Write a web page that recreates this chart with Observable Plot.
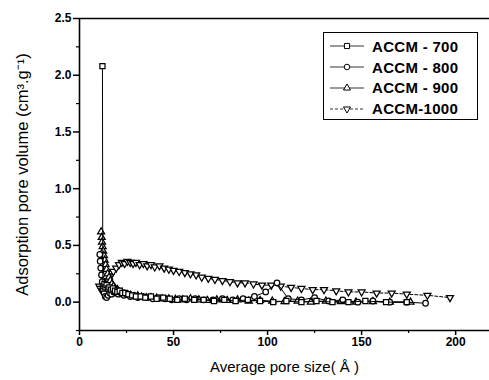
<!DOCTYPE html>
<html><head><meta charset="utf-8">
<script src="https://cdn.jsdelivr.net/npm/d3@7"></script>
<script src="https://cdn.jsdelivr.net/npm/@observablehq/plot@0.6"></script>
<style>
body{margin:0;background:#fff;}
#wrap{position:relative;width:489px;height:380px;overflow:hidden;}
#wrap svg{display:block;}
.legend{position:absolute;left:323px;top:32px;width:155px;height:88px;border:1px solid #000;box-sizing:border-box;background:#fff;font:bold 15px "Liberation Sans",Arial,sans-serif;padding-top:3px;letter-spacing:0.3px;}
.row{display:flex;align-items:center;height:20.8px;}
.row svg{margin-left:6px;margin-right:8px;}
</style></head>
<body><div id="wrap"></div>
<script>
// ---- data ----
const seriesNames = ["ACCM - 700", "ACCM - 800", "ACCM - 900", "ACCM-1000"];

const x700 = [12.2,12.4,12.8,13.3,13.8,14.4,15.1,15.9,16.8,17.8,18.9,20.1,21.4,22.8,24.3,26,28,30,32.5,35,38,41,44.5,48,52,56,61,66,71.5,77,83,89.5,96,103,110,118,126,134.5,143,152,163,174];
const y700 = [2.08,0.12,0.14,0.16,0.13,0.15,0.12,0.13,0.11,0.12,0.10,0.09,0.10,0.08,0.08,0.07,0.06,0.05,0.05,0.04,0.05,0.03,0.04,0.03,0.02,0.03,0.02,0.02,0.01,0.02,0.01,0.02,0.01,0.00,0.01,0.00,0.01,0.00,0.00,0.01,0.00,0.00];

const x800 = [10.8,11.0,11.3,11.7,12.1,12.6,13.1,13.7,14.4,15.2,16.1,17.1,18.2,19.4,20.7,22.1,23.6,25.2,27,29,31,33.5,36,39,42,45.5,49,53,57,61.5,66,71,76,81.5,87,93,99,105,111,118,125,132.5,140,148,156,165,174,184];
const y800 = [0.42,0.36,0.30,0.24,0.18,0.12,0.08,0.05,0.04,0.06,0.08,0.07,0.09,0.08,0.07,0.08,0.06,0.07,0.05,0.06,0.04,0.05,0.04,0.03,0.04,0.03,0.02,0.03,0.02,0.03,0.02,0.02,0.03,0.02,0.03,0.05,0.09,0.17,0.03,0.02,0.04,0.01,0.02,0.00,0.01,0.00,0.00,-0.01];

const x900 = [11.5,11.8,12.0,12.3,12.6,13.0,13.4,13.9,14.4,15.0,15.7,16.4,17.2,18.1,19.1,20.2,21.4,22.7,24.1,25.6,27.2,29,31,33,35.5,38,41,44,47.5,51,55,59,63.5,68,73,78.5,84,90,96,102.5,109,116,123,131,139,147,156,165,176];
const y900 = [0.62,0.57,0.53,0.49,0.45,0.41,0.37,0.33,0.29,0.25,0.22,0.19,0.16,0.14,0.12,0.11,0.09,0.085,0.07,0.065,0.06,0.05,0.055,0.045,0.04,0.04,0.035,0.03,0.03,0.025,0.02,0.03,0.02,0.015,0.02,0.015,0.02,0.01,0.015,0.01,0.005,0.01,0.00,0.01,0.005,0.00,0.005,0.00,0.00];

const x1000 = [10.5,11.2,12,13,14,15.2,16.5,18,19.5,21,22.5,24,25.5,27,28.5,30,32,34,36,38,40,42.5,45,47.5,50,53,56,59,62,65,68.5,72,76,80,84,88,92.5,97,102,107,112.5,118,124,130,136.5,143,150,158,166,174,185,197];
const y1000 = [0.14,0.12,0.10,0.12,0.15,0.19,0.23,0.27,0.30,0.33,0.35,0.34,0.36,0.35,0.34,0.35,0.33,0.34,0.32,0.33,0.31,0.32,0.30,0.29,0.28,0.27,0.26,0.25,0.24,0.22,0.21,0.20,0.19,0.18,0.17,0.17,0.16,0.15,0.15,0.14,0.13,0.12,0.11,0.11,0.10,0.09,0.09,0.08,0.08,0.07,0.06,0.04];

const xMajorTicks = [0, 50, 100, 150, 200];
const xMinorTicks = [25, 75, 125, 175];
const yMajorTicks = [0, 0.5, 1.0, 1.5, 2.0, 2.5];
const yMinorTicks = [-0.25, 0.25, 0.75, 1.25, 1.75, 2.25];

// ---- styling per series ----
const styles = [
  {symbol: "square", r: 2.9, rotate: 0, dash: null},
  {symbol: "circle", r: 2.8, rotate: 0, dash: null},
  {symbol: "triangle", r: 2.6, rotate: 0, dash: null},
  {symbol: "triangle", r: 2.6, rotate: 180, dash: "3,2"}
];
const xs = [x700, x800, x900, x1000];
const ys = [y700, y800, y900, y1000];
const series = seriesNames.map((name, k) => ({
  name, ...styles[k],
  data: xs[k].map((x, i) => ({x, y: ys[k][i]}))
}));

const font = "'Liberation Sans', Arial, sans-serif";
const marks = [];
for (const s of [...series].reverse()) {
  marks.push(Plot.line(s.data, {x: "x", y: "y", stroke: "black", strokeWidth: 1, strokeDasharray: s.dash || undefined}));
  marks.push(Plot.dot(s.data, {x: "x", y: "y", symbol: () => s.symbol, r: s.r, rotate: s.rotate, fill: "white", stroke: "black", strokeWidth: 1.25}));
}

const chart = Plot.plot({
  width: 489, height: 380,
  marginLeft: 79, marginRight: 0, marginTop: 18, marginBottom: 50,
  style: {background: "white", fontFamily: font, color: "black"},
  x: {domain: [0, 218]},
  y: {domain: [-0.25, 2.5]},
  marks: [
    Plot.ruleY([2.5], {stroke: "black", strokeWidth: 1.6}),
    Plot.ruleY([-0.25], {stroke: "black", strokeWidth: 1.6}),
    Plot.ruleX([0], {stroke: "black", strokeWidth: 1.6}),
    Plot.axisX({ticks: xMajorTicks, tickSize: 5, tickPadding: 2, tickFormat: d => String(d), fontSize: 12, fontWeight: "bold", strokeWidth: 1.5, label: null}),
    Plot.axisX({ticks: xMinorTicks, tickSize: 3, tickFormat: () => "", strokeWidth: 1.2, label: null}),
    Plot.axisY({ticks: yMajorTicks, tickSize: 6, tickPadding: 2, tickFormat: d => d.toFixed(1), fontSize: 12, fontWeight: "bold", strokeWidth: 1.5, label: null}),
    Plot.axisY({ticks: yMinorTicks, tickSize: 3, tickFormat: () => "", strokeWidth: 1.2, label: null}),
    Plot.text(["Average pore size( Å )"], {frameAnchor: "bottom", dy: 41, fontSize: 15, fill: "black", style: "letter-spacing:1px"}),
    Plot.text(["Adsorption pore volume (cm³.g⁻¹)"], {frameAnchor: "left", textAnchor: "middle", dx: -57, rotate: -90, fontSize: 16.5, fill: "black"}),
    ...marks
  ]
});
const wrap = document.getElementById("wrap");
wrap.appendChild(chart);

// ---- legend ----
const legend = document.createElement("div");
legend.className = "legend";
const symMap = {square: d3.symbolSquare, circle: d3.symbolCircle, triangle: d3.symbolTriangle};
for (const s of series) {
  const row = document.createElement("div");
  row.className = "row";
  const svg = d3.create("svg").attr("width", 34).attr("height", 12);
  svg.append("line").attr("x1", 0).attr("x2", 34).attr("y1", 6).attr("y2", 6)
    .attr("stroke", "black").attr("stroke-width", 0.8).attr("stroke-dasharray", s.dash);
  svg.append("path").attr("d", d3.symbol(symMap[s.symbol], Math.PI * s.r * s.r)())
    .attr("transform", `translate(17,6) rotate(${s.rotate})`)
    .attr("fill", "white").attr("stroke", "black");
  row.appendChild(svg.node());
  const t = document.createElement("span");
  t.textContent = s.name;
  row.appendChild(t);
  legend.appendChild(row);
}
wrap.appendChild(legend);
</script></body></html>
